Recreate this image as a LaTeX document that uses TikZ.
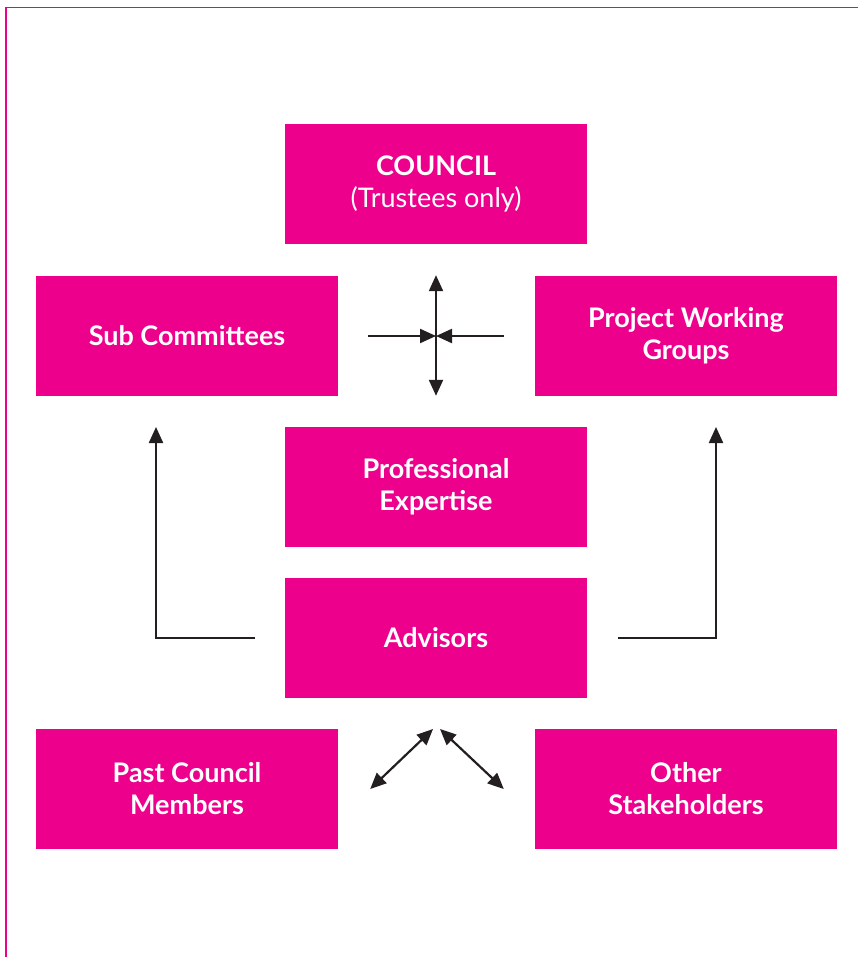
\documentclass[tikz,border=0pt]{standalone}
\usepackage{fontspec}
\setmainfont{Lato}
\usepackage{tikz}
\usetikzlibrary{positioning,calc,arrows.meta}
\definecolor{brandpink}{RGB}{236,0,140}
\definecolor{inkdark}{RGB}{35,31,32}

\begin{document}
\begin{tikzpicture}[x=1pt, y=-1pt,
    pinkbox/.style={fill=brandpink, text=white, minimum width=302pt, minimum height=120pt,
        inner sep=0pt, align=center, font=\fontsize{27}{32}\selectfont\bfseries},
    arr/.style={draw=inkdark, line width=2.2pt, -{Triangle[length=16pt,width=14pt]}},
    darr/.style={arr, {Triangle[length=16pt,width=14pt]}-{Triangle[length=16pt,width=14pt]}}]
    \useasboundingbox (0,0) rectangle (858,957);
    % frame: only top and left edges show
    \draw[brandpink, line width=1.8pt] (858,7.5) -- (6,7.5) -- (6,957);
    % boxes
    \node[pinkbox] (council) at (436,184) {COUNCIL\\{\mdseries (Trustees only)}};
    \node[pinkbox] (subcom) at (187,336) {Sub Committees};
    \node[pinkbox] (project) at (686,336) {Project Working\\Groups};
    \node[pinkbox] (expert) at (436,487) {Professional\\Expertise};
    \node[pinkbox] (advisors) at (436,638) {Advisors};
    \node[pinkbox] (past) at (187,789) {Past Council\\Members};
    \node[pinkbox] (other) at (686,789) {Other\\Stakeholders};
    % cross in the middle
    \coordinate (hub) at (436,336);
    \draw[darr] ([yshift=-31pt]council.south) -- ([yshift=31pt]expert.north);
    \draw[arr] ([xshift=30pt]subcom.east) -- (hub);
    \draw[arr] ([xshift=-31pt]project.west) -- (hub);
    % advisors feed the side groups
    \coordinate (subin) at (156,427);
    \coordinate (projin) at (716,427);
    \draw[arr] ([xshift=-30pt]advisors.west) -| (subin);
    \draw[arr] ([xshift=31pt]advisors.east) -| (projin);
    % links below advisors
    \coordinate (apex) at (436.5,729);
    \draw[darr] ([xshift=32pt]past.east) -- ([xshift=-3.5pt]apex);
    \draw[darr] ([xshift=3.5pt]apex) -- ([xshift=-31pt]other.west);
\end{tikzpicture}
\end{document}
